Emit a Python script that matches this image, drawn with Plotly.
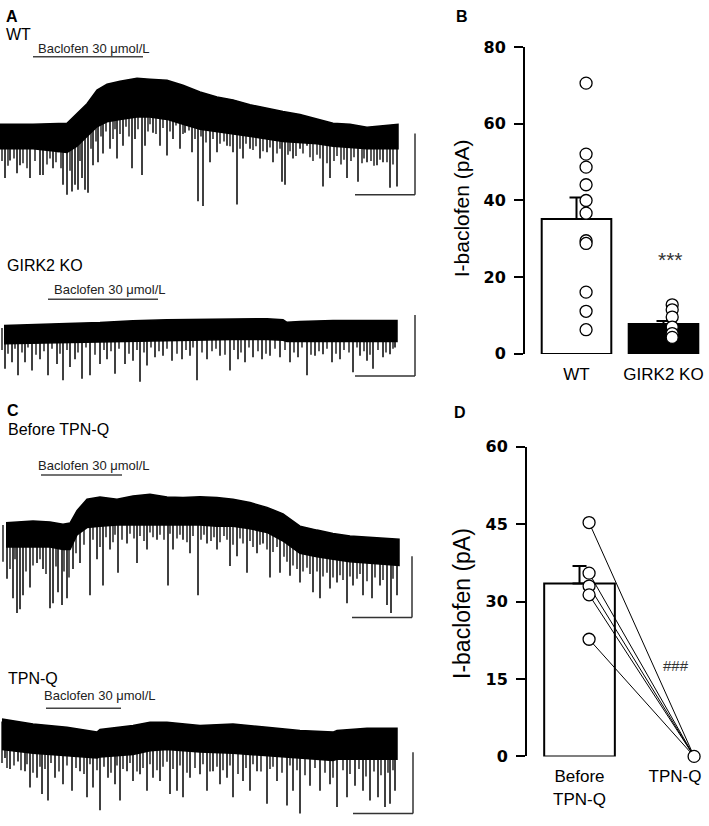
import numpy as np
import plotly.graph_objects as go

W, H = 709, 826
FONT = "Liberation Sans, Arial, sans-serif"

# ---------------- Trace data (time in s, current in pA) ----------------
# Panel A, WT
A_t = [0, 33, 67, 77, 87, 97, 107, 120, 137, 150, 167, 183, 200, 217, 233, 250, 267, 283, 300, 317, 333, 350, 367, 398]
A_top = [0, 0, 0.8, 8.8, 16.8, 28, 32.8, 35.2, 37.6, 36.8, 36, 32, 26.4, 22.4, 20, 16, 12.8, 10.4, 8, 4, 0.8, 0, -2.4, 0]
A_band = [-20, -20, -23, -18, -10, -2, 2, 4, 6, 6, 4, 0, -4, -6, -8, -10, -12, -14, -15, -16, -18, -19, -20, -20]
A_spk_t = [5, 10, 17, 20, 30, 40, 43, 53, 58, 63, 67, 72, 75, 78, 82, 85, 88, 93, 98, 103, 110, 117, 123, 132,
           135, 142, 145, 153, 160, 167, 173, 180, 185, 192, 198, 203, 210, 217, 227, 233, 237, 243, 250, 260,
           267, 273, 282, 285, 293, 300, 307, 323, 330, 347, 358, 367, 377, 383, 390, 397]
A_spk_a = [-44, -29.6, -40, -33.6, -44, -41.6, -41.6, -36, -23, -49.6, -57.6, -55, -49.6, -53.6, -44, -53.6, -56,
           -33.6, -31, -24, -20, -28, -17.6, -36, -12, -41.6, -17.6, -7, -17.6, -25.6, -12, -20, -7, -23, -63, -67,
           -31, -23, -17.6, -23, -65.6, -28, -20, -28, -23, -31, -47, -49.6, -28, -20, -17.6, -51, -44, -44, -47,
           -31, -33.6, -31, -52, -51]
A_sm_t = [2, 8, 14, 23, 27, 35, 47, 50, 56, 61, 70, 80, 91, 96, 101, 106, 113, 115, 120, 126,
          129, 138, 148, 150, 156, 163, 170, 176, 183, 189, 195, 201, 206, 213, 220, 224, 230, 240, 246, 253,
          256, 263, 270, 277, 280, 288, 290, 296, 303, 310, 313, 317, 320, 327, 334, 337, 341, 344, 351, 354,
          362, 364, 371, 374, 380, 387, 393]
A_sm_a = [-30, -34, -28, -32, -36, -30, -33, -28, -31, -36, -38, -30, -20, -14, -10, -6, -12, -4, -8, -2,
          -10, -4, -6, 0, -8, -3, -6, -1, -8, -5, -12, -10, -15, -12, -16, -14, -18, -20, -16, -21,
          -18, -22, -19, -24, -20, -25, -22, -26, -24, -27, -30, -25, -28, -32, -30, -26, -33, -29, -30, -27,
          -32, -28, -30, -34, -29, -31, -33]

# Panel A, GIRK2 KO
B_t = [4, 33, 67, 100, 133, 167, 200, 233, 267, 283, 287, 300, 333, 367, 397]
B_top = [0, 0.5, 1.6, 2.4, 4, 4.8, 5, 5.4, 5.6, 4.8, 2.6, 3.4, 4.2, 4.2, 4.2]
B_band = [-15, -14.5, -14, -13, -12.5, -12, -12, -11.5, -11.5, -12, -13, -12.5, -12.5, -13, -13]
B_spk_t = [5, 12, 18, 25, 32, 40, 48, 57, 63, 70, 75, 82, 90, 100, 107, 115, 125, 133, 140, 147, 155, 163, 172,
           182, 190, 197, 207, 220, 230, 238, 245, 253, 262, 270, 280, 290, 298, 307, 315, 323, 332, 340, 353,
           360, 367, 373, 383, 390, 395]
B_spk_a = [-35.4, -30, -40.8, -30, -36.8, -27.5, -40.8, -31.5, -44.8, -34, -27.5, -43.5, -40.8, -31.5, -27.5,
           -39.5, -31.5, -28.8, -46, -32.8, -26, -24.8, -28.8, -27.5, -24.8, -44.8, -27.5, -24.8, -36.8, -27.5,
           -30, -26, -27.5, -24.8, -26, -30, -26, -40.8, -24.8, -23.5, -30, -27.5, -38.2, -24.8, -28.8, -35.4,
           -26, -23.5, -18]
B_sm_t = [2, 8, 15, 22, 28, 36, 44, 52, 60, 67, 78, 86, 95, 104, 111, 119, 129, 137, 144, 151,
          159, 167, 177, 186, 193, 202, 212, 216, 225, 234, 241, 249, 258, 266, 275, 285, 294, 302, 311, 319,
          327, 336, 344, 349, 357, 364, 370, 378, 386, 393]
B_sm_a = [-20, -23, -19, -22, -18, -24, -21, -19, -23, -20, -22, -18, -24, -20, -21, -19, -23, -20, -22, -18,
          -21, -19, -23, -20, -18, -22, -21, -19, -24, -20, -22, -18, -21, -23, -19, -20, -22, -18, -24, -21,
          -19, -23, -20, -22, -18, -21, -24, -20, -22, -19]

# Panel C, Before TPN-Q
C_t = [6, 33, 50, 63, 70, 77, 87, 100, 117, 133, 150, 167, 183, 200, 217, 233, 250, 267, 283, 300, 317, 333, 350, 367, 383, 399]
C_top = [0, 1.3, 0.5, -1.3, -0.3, 9.9, 19.2, 21.1, 19.2, 21.9, 23.2, 21.1, 20.5, 21.3, 20.5, 19.2, 16.5, 12.5, 7.2,
         -2.9, -6.1, -8.8, -10.9, -12, -12.8, -13.6]
C_band = [-20, -20, -20, -22, -22, -10, -4, -3, -2, -2, -2, -2, -2, -2, -3, -3, -5, -8, -15, -25, -28, -30, -32, -33, -34, -35]
C_spk_t = [7, 13, 17, 20, 23, 30, 37, 43, 50, 53, 58, 62, 67, 73, 80, 90, 97, 103, 110, 118, 127, 137, 147, 157,
           168, 173, 183, 190, 198, 207, 217, 230, 237, 247, 257, 263, 270, 280, 290, 300, 313, 320, 330, 337,
           347, 353, 363, 372, 380, 387, 391, 397]
C_spk_a = [-46, -62, -74, -71, -59.5, -53, -33, -38, -70, -66, -57, -67.5, -62, -38, -33, -59.5, -30, -51.5, -22,
           -41, -17, -33, -22, -14, -51.5, -22, -14, -25, -59.5, -17, -22, -35.5, -27.5, -41, -25, -17, -45, -41,
           -43.5, -49, -57, -62, -54, -49, -66, -51.5, -59.5, -62, -51.5, -67.5, -74, -59.5]
C_sm_t = [3, 10, 15, 26, 33, 40, 46, 56, 64, 69, 76, 84, 93, 100, 106, 113, 115, 122, 130, 134,
          140, 144, 150, 153, 160, 164, 170, 177, 180, 187, 193, 201, 204, 211, 214, 220, 224, 227, 233, 240,
          243, 250, 253, 260, 267, 273, 277, 284, 287, 293, 297, 303, 307, 310, 317, 323, 327, 333, 340, 343,
          350, 357, 360, 367, 375, 383, 393]
C_sm_a = [-32, -38, -30, -40, -35, -30, -42, -36, -40, -45, -25, -18, -14, -20, -12, -16, -10, -14, -9, -13,
          -11, -15, -8, -12, -10, -14, -9, -13, -10, -16, -11, -14, -10, -15, -12, -16, -11, -14, -18, -13,
          -17, -15, -20, -18, -22, -24, -20, -28, -32, -35, -38, -40, -37, -42, -40, -44, -41, -45, -43, -47,
          -44, -46, -42, -48, -45, -47, -46]

# Panel C, TPN-Q
D_t = [2, 33, 67, 97, 100, 133, 150, 167, 200, 233, 267, 300, 333, 337, 367, 397]
D_top = [0, -4, -6.7, -10.7, -8.5, -5.3, -2.7, -2.7, -5.3, -4, -6.7, -9.3, -10.7, -9.3, -7.5, -7.5]
D_band = [-25, -28, -30, -32, -31, -29, -26, -25, -27, -28, -30, -32, -34, -33, -33, -33]
D_spk_t = [5, 10, 18, 25, 30, 37, 42, 48, 55, 63, 72, 80, 87, 93, 100, 108, 115, 120, 127, 133, 140, 147, 153,
           160, 170, 177, 183, 190, 200, 207, 213, 220, 227, 233, 243, 250, 257, 267, 277, 287, 293, 300, 310,
           320, 330, 337, 347, 355, 363, 370, 378, 385, 390, 395]
D_spk_a = [-32, -41, -34.7, -42.7, -56, -48, -61.3, -66.7, -48, -53.3, -58.7, -42.7, -64, -56, -74.7, -48, -53.3,
           -66.7, -42.7, -50.7, -45.3, -58.7, -48, -50.7, -61.3, -58.7, -64, -48, -45.3, -58.7, -42.7, -53.3,
           -48, -64, -50.7, -58.7, -42.7, -69.3, -50.7, -70.7, -58.7, -77.3, -54.7, -58.7, -53.3, -72, -64,
           -54.7, -58.7, -66.7, -64, -72, -69.3, -58.7]
D_sm_t = [2, 7, 14, 21, 27, 33, 40, 45, 51, 59, 67, 76, 84, 90, 97, 104, 111, 117, 123, 130,
          137, 143, 150, 157, 163, 167, 173, 180, 187, 195, 203, 210, 217, 223, 230, 238, 246, 253, 261, 270,
          273, 282, 290, 297, 305, 315, 325, 333, 343, 350, 359, 366, 374, 381, 388, 393]
D_sm_a = [-36, -40, -38, -42, -37, -44, -39, -41, -36, -43, -38, -40, -45, -37, -42, -39, -44, -38, -41, -36,
          -43, -40, -37, -42, -39, -35, -41, -38, -44, -40, -37, -43, -39, -42, -38, -45, -40, -37, -43, -41,
          -39, -44, -38, -42, -46, -40, -44, -48, -42, -45, -41, -47, -43, -46, -44, -42]

# Baclofen application (s) and scale-bar corners (s, pA)
BACLOFEN = {"A": (33, 143), "B": (48, 158), "C": (41, 122), "D": (46, 121)}
SCALE_T, SCALE_I = 60, 50
SCALE_CORNER = {"A": (415, -57.6), "B": (415, -41.4), "C": (412, -77.6), "D": (413, -77.3)}

# ---------------- Bar chart data ----------------
B_groups = ["WT", "GIRK2 KO"]
B_means = [35.2, 7.8]
B_sem = [5.6, 0.8]
WT_points = [70.6, 52.1, 48.7, 44.1, 40.0, 36.7, 29.5, 28.8, 16.1, 11.1, 6.3]
KO_points = [12.8, 11.5, 9.6, 7.0, 5.3, 4.3]

D_groups = ["Before<br>TPN-Q", "TPN-Q"]
D_mean = 33.5
D_sem = 3.4
before_pts = [45.3, 35.5, 33.0, 31.3, 22.7]
after_pts = [0, 0, 0, 0, 0]


def px(x):
    return x / W


def py(y):
    return 1 - y / H


fig = go.Figure()

traces = [
    ("A", A_t, A_top, A_band, A_spk_t, A_spk_a, A_sm_t, A_sm_a, "x", "y"),
    ("B", B_t, B_top, B_band, B_spk_t, B_spk_a, B_sm_t, B_sm_a, "x2", "y2"),
    ("C", C_t, C_top, C_band, C_spk_t, C_spk_a, C_sm_t, C_sm_a, "x3", "y3"),
    ("D", D_t, D_top, D_band, D_spk_t, D_spk_a, D_sm_t, D_sm_a, "x4", "y4"),
]

shapes = []
for key, T, TOP, BAND, ST, SA, MT, MA, xa, ya in traces:
    poly_x = list(T) + list(T[::-1])
    poly_y = list(TOP) + list(BAND[::-1])
    fig.add_trace(go.Scatter(x=poly_x, y=poly_y, fill="toself", fillcolor="black",
                             line=dict(color="black", width=1.5), mode="lines",
                             xaxis=xa, yaxis=ya, showlegend=False, hoverinfo="skip"))
    for tt, aa, wd in ((MT, MA, 1.3), (ST, SA, 1.5)):
        sx, sy = [], []
        for t, a in zip(tt, aa):
            sx += [t, t, None]
            sy += [float(np.interp(t, T, TOP)) - 2, a, None]
        fig.add_trace(go.Scatter(x=sx, y=sy, mode="lines", line=dict(color="black", width=wd),
                                 xaxis=xa, yaxis=ya, showlegend=False, hoverinfo="skip"))
    cx, cy = SCALE_CORNER[key]
    shapes.append(dict(type="line", xref=xa, yref=ya, x0=cx - SCALE_T, x1=cx, y0=cy, y1=cy,
                       line=dict(color="#333", width=1.5)))
    shapes.append(dict(type="line", xref=xa, yref=ya, x0=cx, x1=cx, y0=cy, y1=cy + SCALE_I,
                       line=dict(color="#333", width=1.5)))

bac_y = {"A": 49, "B": 297, "C": 477, "D": 715.7}
axmap = {"A": "x", "B": "x2", "C": "x3", "D": "x4"}
for k, (t0, t1) in BACLOFEN.items():
    shapes.append(dict(type="line", xref=axmap[k], yref="paper", x0=t0, x1=t1,
                       y0=py(bac_y[k]), y1=py(bac_y[k]), line=dict(color="#444", width=1.5)))

# ---------------- Bar panel B ----------------
fig.add_trace(go.Bar(x=[0, 1], y=B_means, width=0.8,
                     marker=dict(color=["white", "black"], line=dict(color="black", width=2)),
                     error_y=dict(type="data", symmetric=False, array=B_sem, arrayminus=[0, 0],
                                  color="black", thickness=2, width=7),
                     xaxis="x5", yaxis="y5", showlegend=False))
fig.add_trace(go.Scatter(x=[0.11] * len(WT_points), y=WT_points, mode="markers",
                         marker=dict(size=12, color="white", line=dict(color="black", width=1.3)),
                         xaxis="x5", yaxis="y5", showlegend=False, cliponaxis=False))
fig.add_trace(go.Scatter(x=[1.1] * len(KO_points), y=KO_points, mode="markers",
                         marker=dict(size=12, color="white", line=dict(color="black", width=1.3)),
                         xaxis="x5", yaxis="y5", showlegend=False, cliponaxis=False))

# ---------------- Bar panel D ----------------
fig.add_trace(go.Bar(x=[0], y=[D_mean], width=0.74,
                     marker=dict(color="white", line=dict(color="black", width=2)),
                     error_y=dict(type="data", symmetric=False, array=[D_sem], arrayminus=[0],
                                  color="black", thickness=2, width=7),
                     xaxis="x6", yaxis="y6", showlegend=False))
for b, a in zip(before_pts, after_pts):
    fig.add_trace(go.Scatter(x=[0.1, 1.2], y=[b, a], mode="lines", line=dict(color="black", width=1),
                             xaxis="x6", yaxis="y6", showlegend=False, cliponaxis=False))
fig.add_trace(go.Scatter(x=[0.1] * len(before_pts) + [1.2], y=before_pts + [after_pts[0]], mode="markers",
                         marker=dict(size=12, color="white", line=dict(color="black", width=1.3)),
                         xaxis="x6", yaxis="y6", showlegend=False, cliponaxis=False))

hidden = dict(visible=False, fixedrange=True)
layout = dict(
    width=W, height=H, margin=dict(l=0, r=0, t=0, b=0),
    paper_bgcolor="white", plot_bgcolor="rgba(0,0,0,0)", showlegend=False,
    font=dict(family=FONT, color="black"),
    xaxis=dict(domain=[0, px(420)], range=[0, 420], **hidden),
    yaxis=dict(domain=[py(210), py(30)], range=[-73.6, 70.4], **hidden),
    xaxis2=dict(domain=[0, px(420)], range=[0, 420], anchor="y2", **hidden),
    yaxis2=dict(domain=[py(390), py(250)], range=[-52.8, 59.2], anchor="x2", **hidden),
    xaxis3=dict(domain=[0, px(420)], range=[0, 420], anchor="y3", **hidden),
    yaxis3=dict(domain=[py(650), py(440)], range=[-99.4, 68.6], anchor="x3", **hidden),
    xaxis4=dict(domain=[0, px(420)], range=[0, 420], anchor="y4", **hidden),
    yaxis4=dict(domain=[py(826), py(690)], range=[-79.4, 29.4], anchor="x4", **hidden),
)
tickfont_b = dict(family="DejaVu Sans, sans-serif", size=16, color="black", weight="bold")
layout["xaxis5"] = dict(domain=[px(525), 1], range=[-0.592, 1.523], anchor="y5", showline=False,
                        showgrid=False, zeroline=False, ticks="", tickvals=[0, 1], ticktext=B_groups,
                        tickfont=dict(family=FONT, size=17), ticklabelstandoff=8)
layout["yaxis5"] = dict(domain=[py(353), py(39)], range=[0, 80], anchor="x5", showline=True,
                        linecolor="black", linewidth=2, ticks="outside", ticklen=9, tickwidth=2,
                        tickcolor="black", tickvals=[0, 20, 40, 60, 80], showgrid=False, zeroline=False,
                        tickfont=tickfont_b, ticklabelstandoff=5)
layout["xaxis6"] = dict(domain=[px(527), 1], range=[-0.55, 1.356], anchor="y6", showline=False,
                        showgrid=False, zeroline=False, ticks="", tickvals=[0, 1], ticktext=D_groups,
                        tickfont=dict(family=FONT, size=17), ticklabelstandoff=8)
layout["yaxis6"] = dict(domain=[py(765), py(448)], range=[0, 60], anchor="x6", showline=True,
                        linecolor="black", linewidth=2, ticks="outside", ticklen=9, tickwidth=2,
                        tickcolor="black", tickvals=[0, 15, 30, 45, 60], showgrid=False, zeroline=False,
                        tickfont=tickfont_b, ticklabelstandoff=5)
fig.update_layout(**layout)
fig.update_layout(shapes=shapes)


def ann(text, x, y, size, bold=False, xanchor="left", angle=0, color="black", family=FONT):
    return dict(text=(f"<b>{text}</b>" if bold else text), x=px(x), y=py(y), xref="paper", yref="paper",
                xanchor=xanchor, yanchor="middle", showarrow=False, textangle=angle,
                font=dict(family=family, size=size, color=color))


annotations = [
    ann("A", 4, 8, 16, bold=True),
    ann("B", 454, 8, 16, bold=True),
    ann("C", 5, 411, 16, bold=True),
    ann("D", 452, 413, 16, bold=True),
    ann("WT", 4, 26, 16),
    ann("GIRK2 KO", 5, 263, 16),
    ann("Before TPN-Q", 6, 430, 16),
    ann("TPN-Q", 6, 685, 16),
    ann("Baclofen 30 μmol/L", 36, 40, 13, color="#222"),
    ann("Baclofen 30 μmol/L", 52, 287, 13, color="#222"),
    ann("Baclofen 30 μmol/L", 36, 467, 13, color="#222"),
    ann("Baclofen 30 μmol/L", 42, 703, 13, color="#222"),
    ann("I-baclofen (pA)", 461, 204, 21, xanchor="center", angle=-90),
    ann("I-baclofen (pA)", 462, 609, 23, xanchor="center", angle=-90),
    ann("***", 670, 256, 21, xanchor="center", color="#333"),
    ann("###", 676, 672, 15, xanchor="center", color="#333"),
]
fig.update_layout(annotations=annotations)

fig.write_html("out.html", config={"displayModeBar": False, "staticPlot": True},
               post_script="document.body.style.margin='0px';")
